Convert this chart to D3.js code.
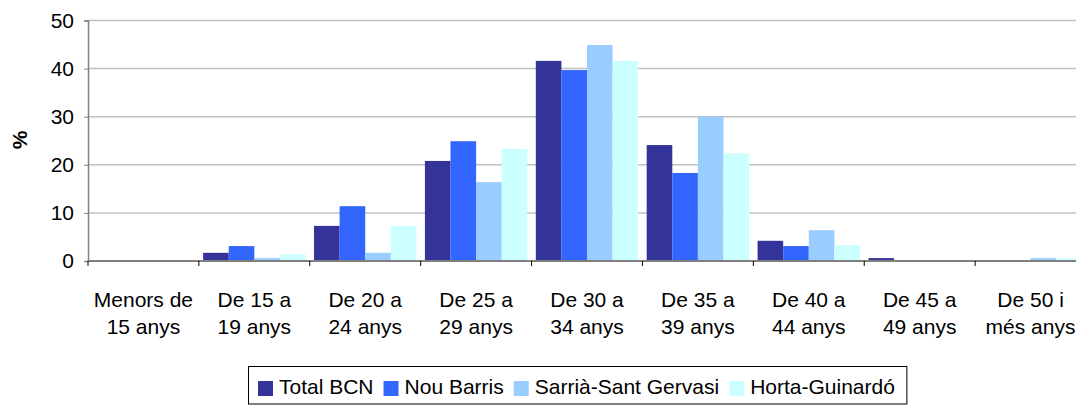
<!DOCTYPE html>
<html>
  <head>
    <meta charset="utf-8">
    <title>Edat</title>
    <script src="https://d3js.org/d3.v7.min.js"></script>
    <style>
      body { margin: 0; background: #ffffff; }
      svg { display: block; font-family: "Liberation Sans", Arial, sans-serif; }
    </style>
  </head>
  <body>
    <svg width="1076" height="405"></svg>
    <script>
      var categories = [
        ["Menors de", "15 anys"],
        ["De 15 a", "19 anys"],
        ["De 20 a", "24 anys"],
        ["De 25 a", "29 anys"],
        ["De 30 a", "34 anys"],
        ["De 35 a", "39 anys"],
        ["De 40 a", "44 anys"],
        ["De 45 a", "49 anys"],
        ["De 50 i", "més anys"]
      ];
      var seriesNames = ["Total BCN", "Nou Barris", "Sarrià-Sant Gervasi", "Horta-Guinardó"];
      var totalBcn = [0, 1.7, 7.3, 20.8, 41.6, 24.1, 4.2, 0.6, 0];
      var nouBarris = [0, 3.1, 11.4, 24.9, 39.7, 18.3, 3.1, 0, 0];
      var sarria = [0, 0.6, 1.7, 16.4, 44.9, 30.0, 6.4, 0, 0.6];
      var horta = [0, 1.4, 7.3, 23.3, 41.6, 22.4, 3.3, 0, 0.6];
      var yTicks = [0, 10, 20, 30, 40, 50];
      var colors = ["#333399", "#3366ff", "#99ccff", "#ccffff"];

      var series = [totalBcn, nouBarris, sarria, horta];
      var svg = d3.select("svg");
      var plotLeft = 88, plotRight = 1086, plotTop = 20.5, plotBottom = 261;
      var fs = 21;

      var x = d3.scaleBand()
        .domain(d3.range(categories.length))
        .range([plotLeft, plotRight])
        .paddingInner(0)
        .paddingOuter(0);
      var xInner = d3.scaleBand()
        .domain(d3.range(series.length))
        .range([0, x.bandwidth()])
        .paddingOuter(0.166);
      var y = d3.scaleLinear().domain([0, 50]).range([plotBottom, plotTop]);

      // gridlines
      svg.append("g")
        .selectAll("line")
        .data(yTicks.slice(1))
        .enter().append("line")
          .attr("x1", plotLeft)
          .attr("x2", 1076)
          .attr("y1", function (d) { return y(d); })
          .attr("y2", function (d) { return y(d); })
          .attr("stroke", "#c0c0c0")
          .attr("stroke-width", 1.5);

      // bars
      svg.append("g")
        .selectAll("g")
        .data(series)
        .enter().append("g")
          .attr("fill", function (d, i) { return colors[i]; })
          .each(function (vals, si) {
            d3.select(this).selectAll("rect")
              .data(vals)
              .enter().append("rect")
                .attr("x", function (d, ci) { return x(ci) + xInner(si); })
                .attr("width", xInner.bandwidth())
                .attr("y", function (d) { return y(d); })
                .attr("height", function (d) { return plotBottom - y(d); });
          });

      // y axis
      var yAxis = svg.append("g")
        .attr("transform", "translate(" + plotLeft + ",0)")
        .call(d3.axisLeft(y).tickValues(yTicks).tickSize(4).tickPadding(10));
      yAxis.select(".domain").attr("stroke", "#808080").attr("stroke-width", 1.5);
      yAxis.selectAll(".tick line").attr("stroke", "#808080");
      yAxis.selectAll(".tick text")
        .attr("font-size", fs)
        .attr("font-family", "Liberation Sans, Arial, sans-serif")
        .attr("fill", "#000");

      // x axis
      var xAxis = svg.append("g")
        .attr("transform", "translate(0," + plotBottom + ")");
      xAxis.append("line")
        .attr("x1", plotLeft)
        .attr("x2", 1076)
        .attr("stroke", "#808080")
        .attr("stroke-width", 2);
      xAxis.selectAll(".tk")
        .data(d3.range(categories.length))
        .enter().append("line")
          .attr("class", "tk")
          .attr("x1", function (d) { return x(d); })
          .attr("x2", function (d) { return x(d); })
          .attr("y1", 0)
          .attr("y2", 5)
          .attr("stroke", "#000");
      var lbl = xAxis.selectAll(".lbl")
        .data(categories)
        .enter().append("text")
          .attr("class", "lbl")
          .attr("text-anchor", "middle")
          .attr("font-size", fs);
      lbl.append("tspan")
        .attr("x", function (d, i) { return x(i) + x.bandwidth() / 2; })
        .attr("y", 46)
        .text(function (d) { return d[0]; });
      lbl.append("tspan")
        .attr("x", function (d, i) { return x(i) + x.bandwidth() / 2; })
        .attr("y", 73)
        .text(function (d) { return d[1]; });

      // y label
      svg.append("text")
        .attr("transform", "translate(27,140) rotate(-90)")
        .attr("text-anchor", "middle")
        .attr("font-size", fs)
        .attr("font-weight", "bold")
        .text("%");

      // legend
      var legend = svg.append("g");
      var box = legend.append("rect")
        .attr("fill", "#fff")
        .attr("stroke", "#000")
        .attr("stroke-width", 1);
      var lx = 258, lastEnd = 0;
      seriesNames.forEach(function (name, i) {
        legend.append("rect")
          .attr("x", lx)
          .attr("y", 381)
          .attr("width", 15)
          .attr("height", 15)
          .attr("fill", colors[i]);
        var t = legend.append("text")
          .attr("x", lx + 21)
          .attr("y", 394)
          .attr("font-size", 21)
          .text(name);
        lastEnd = lx + 21 + t.node().getComputedTextLength();
        lx = lastEnd + 10;
      });
      box.attr("x", 248.5).attr("y", 366.5)
        .attr("width", lastEnd + 12 - 248.5)
        .attr("height", 37.5);
    </script>
  </body>
</html>
